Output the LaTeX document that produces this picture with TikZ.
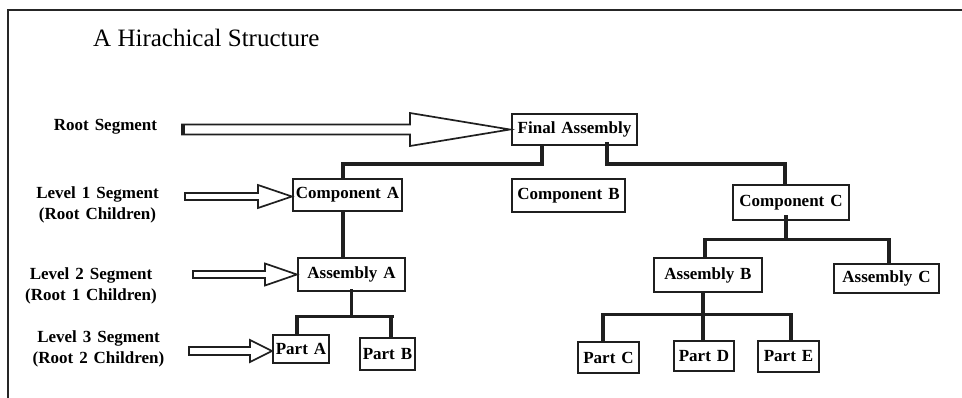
\documentclass[tikz,border=0pt]{standalone}
\usepackage{fontspec}
\setmainfont{Liberation Serif}
\newfontfamily\labelfont{Liberation Serif}[WordSpace=1.4]
\begin{document}
\begin{tikzpicture}[x=1pt,y=-1pt,
  box/.style={draw=black!88, line width=2.2pt, inner sep=0pt,
    font=\labelfont\bfseries\fontsize{17}{20}\selectfont},
  conn/.style={draw=black!88, line width=3.2pt},
  blockarrow/.style={draw=black!88, line width=1.7pt, fill=white, line join=miter},
  seglabel/.style={align=center, inner sep=0pt,
    font=\labelfont\bfseries\fontsize{17}{21}\selectfont},
  frame/.style={draw=black!85, line width=1.6pt}
]
\useasboundingbox (0,0) rectangle (962,398);

% open frame: top and left edges
\draw[frame] (8,398) -- (8,10) -- (962,10);

% title
\node[anchor=base west, inner sep=0pt, font=\fontsize{25}{30}\selectfont]
  (title) at (93,47) {A Hirachical Structure};

% tree nodes
\node[box, minimum width=125, minimum height=31] (fa) at (574.5,129.5) {Final Assembly};
\node[box, minimum width=109, minimum height=32] (ca) at (347.5,195)   {Component A};
\node[box, minimum width=113, minimum height=33] (cb) at (568.5,195.5) {Component B};
\node[box, minimum width=116, minimum height=35] (cc) at (791,202.5)   {Component C};
\node[box, minimum width=107, minimum height=33] (aa) at (351.5,274.5) {Assembly A};
\node[box, minimum width=108, minimum height=34] (ab) at (708,275)     {Assembly B};
\node[box, minimum width=105, minimum height=29] (ac) at (886.5,278.5) {Assembly C};
\node[box, minimum width=56,  minimum height=28] (pa) at (301,349)     {Part A};
\node[box, minimum width=55,  minimum height=32] (pb) at (387.5,354)   {Part B};
\node[box, minimum width=61,  minimum height=31] (pc) at (608.5,357.5) {Part C};
\node[box, minimum width=60,  minimum height=30] (pd) at (704,356)     {Part D};
\node[box, minimum width=61,  minimum height=31] (pe) at (788.5,356.5) {Part E};

% connectors: Final Assembly to components
\draw[conn] ([xshift=-32.5]fa.south) -- ++(0,18) -| ([xshift=-4.5]ca.north);
\draw[conn] ([xshift=32.5,yshift=4]fa.south) -- ++(0,22) -| ([xshift=-6]cc.north);

% Component A to Assembly A
\draw[conn] ([xshift=-4.5]ca.south) -- ([xshift=-8.5]aa.north);

% Assembly A to Part A and Part B
\draw[conn] ([yshift=3]aa.south) -- ++(0,28);
\draw[conn] ([xshift=-4]pa.north) -- ++(0,-17) -| ([xshift=3.5]pb.north);
\draw[conn] ([xshift=-6,yshift=17]pa.north) -- ++(99,0);

% Component C to Assembly B and Assembly C
\draw[conn] ([xshift=-5,yshift=6]cc.south) -- ++(0,25);
\draw[conn] ([xshift=-3]ab.north) -- ++(0,-17) -| ([xshift=2.5]ac.north);

% Assembly B to Part C, Part D and Part E
\draw[conn] ([xshift=-5,yshift=2]ab.south) -- ([xshift=-1]pd.north);
\draw[conn] ([xshift=-5.5]pc.north) -- ++(0,-28);
\draw[conn] ([xshift=-5.5]pc.north) -- ++(0,-26) -| ([xshift=2.5]pe.north);

% segment labels
\node[seglabel] (lroot) at (105.5,127)  {Root Segment};
\node[seglabel] (l1)    at (97.5,204.5) {Level 1 Segment\\(Root Children)};
\node[seglabel] (l2)    at (91,286)     {Level 2 Segment\\(Root 1 Children)};
\node[seglabel] (l3)    at (98.5,348.5) {Level 3 Segment\\(Root 2 Children)};

% hollow block arrows pointing at each level
\draw[blockarrow] (182,124.5) -- (410,124.5) -- (410,113) -- ([xshift=-1]fa.west)
  -- (410,146) -- (410,134.5) -- (182,134.5) -- cycle;
\draw[draw=black!88, line width=3pt] (183,124.5) -- (183,134.5);
\draw[blockarrow] (185,193) -- (258,193) -- (258,185) -- ([yshift=-1.5]ca.west)
  -- (258,208) -- (258,200) -- (185,200) -- cycle;
\draw[blockarrow] (193,271) -- (265,271) -- (265,263.5) -- (aa.west)
  -- (265,285.5) -- (265,278) -- (193,278) -- cycle;
\draw[blockarrow] (189,347) -- (250,347) -- (250,340) -- ([yshift=-2]pa.west)
  -- (250,362) -- (250,355) -- (189,355) -- cycle;
\end{tikzpicture}
\end{document}
